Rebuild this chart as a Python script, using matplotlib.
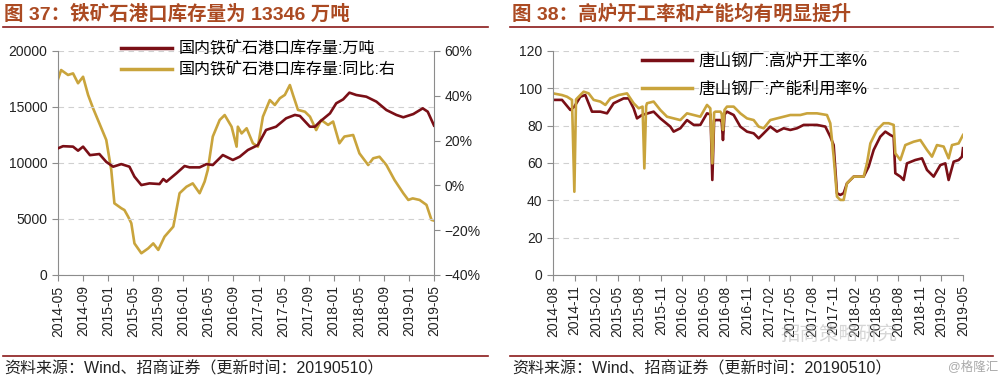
import matplotlib
matplotlib.use("Agg")
import matplotlib.pyplot as plt
from matplotlib.lines import Line2D

plt.rcParams['font.family'] = ['Liberation Sans', 'Noto Sans CJK SC', 'DejaVu Sans']
plt.rcParams['axes.unicode_minus'] = True

RED = "#7a0f16"
GOLD = "#c9a43c"
TITLE_C = "#ab4a22"
RULE_C = "#8b1a1a"

# ---- 图37 数据 (x: 距 2014-05 的月数) ----
stock_t = [0, 0.8, 2.4, 3.2, 4.0, 5.1, 6.6, 7.7, 8.8, 10.1, 11.4, 12.2, 13.3, 14.6,
           16.2, 16.8, 17.3, 18.9, 20.2, 21.0, 22.6, 23.7, 24.7, 26.3, 27.9, 29.0,
           30.3, 31.9, 33.2, 34.8, 36.4, 37.8, 38.6, 40.2, 41.0, 41.8, 43.4, 44.4,
           45.5, 46.5, 47.6, 49.2, 50.8, 52.4, 54.0, 55.1, 56.7, 58.2, 59.0, 60.0]
stock_val = [11310, 11500, 11460, 11100, 11460, 10700, 10800, 10100, 9670, 9900, 9670,
             8780, 8030, 8180, 8120, 8570, 8330, 9080, 9730, 9610, 9610, 9900, 9820,
             10710, 10270, 10560, 11160, 11600, 12950, 13240, 13990, 14290, 14200,
             13240, 13240, 13690, 14430, 15330, 15680, 16280, 16070, 15920, 15480,
             14730, 14290, 14080, 14370, 14880, 14580, 13346]

yoy_t = [0, 0.5, 1.6, 2.4, 3.2, 4.0, 4.8, 5.6, 6.6, 7.7, 8.5, 9.0, 10.1, 10.6, 11.2,
         11.7, 12.2, 13.3, 14.4, 15.2, 16.0, 17.0, 18.4, 19.4, 20.5, 21.5, 22.6, 23.4,
         23.9, 24.7, 25.8, 26.6, 27.7, 28.5, 28.7, 29.3, 30.1, 31.1, 31.9, 32.7, 33.8,
         34.6, 35.4, 36.2, 37.0, 37.5, 38.3, 39.4, 40.2, 41.2, 42.0, 43.1, 43.9, 44.9,
         45.7, 47.1, 48.1, 49.5, 50.3, 51.3, 52.4, 53.7, 55.1, 55.9, 56.6, 57.7, 58.8,
         59.6, 60.0]
yoy_val = [47.4, 51.5, 49.3, 50.0, 45.6, 48.5, 40.4, 34.4, 27.7, 20.3, 6.9, -8.0,
           -10.2, -11.0, -14.0, -16.9, -25.9, -30.3, -28.1, -25.9, -28.8, -22.9,
           -18.4, -3.5, -0.6, 0.9, -3.5, 1.7, 6.9, 21.8, 29.2, 31.4, 26.2, 17.3, 26.2,
           23.2, 25.5, 18.8, 17.3, 30.7, 38.1, 35.9, 38.9, 40.4, 44.8, 40.4, 33.7,
           32.9, 30.7, 24.7, 29.2, 27.0, 28.5, 18.8, 21.8, 22.5, 14.3, 9.1, 12.1, 12.8,
           9.1, 2.4, -3.5, -6.5, -5.8, -6.5, -8.7, -15.4, -15.7]

left_ticks = ["2014-05", "2014-09", "2015-01", "2015-05", "2015-09", "2016-01",
              "2016-05", "2016-09", "2017-01", "2017-05", "2017-09", "2018-01",
              "2018-05", "2018-09", "2019-01", "2019-05"]

# ---- 图38 数据 (x: 距 2014-08 的月数) ----
bf_t = [0, 1.25, 2.41, 2.97, 3.8, 4.49, 5.42, 6.58, 7.51, 8.43, 9.82, 10.52, 11.21,
        11.68, 12.37, 13.99, 14.92, 16.31, 16.77, 17.7, 18.63, 19.56, 20.48, 21.41,
        21.9, 22.15, 22.4, 22.57, 23.26, 23.45, 23.63, 23.85, 24.19, 25.12, 26.04,
        26.97, 27.9, 28.59, 29.29, 30.21, 31.14, 32.07, 32.99, 33.92, 34.85, 36.7,
        37.86, 38.55, 39.02, 39.48, 39.94, 40.41, 40.87, 41.8, 43.19, 43.88, 44.58,
        45.5, 46.2, 46.9, 47.36, 47.59, 48.29, 48.75, 49.21, 50.37, 51.3, 51.99,
        52.92, 53.85, 54.54, 55.0, 55.7, 56.39, 56.86, 57.0]
bf_val = [93.8, 93.8, 88.4, 90.2, 95.5, 96.4, 87.5, 87.5, 86.6, 92.0, 94.6, 94.6,
          89.3, 83.9, 85.7, 87.5, 83.9, 79.5, 76.8, 78.6, 83.0, 80.4, 80.4, 86.6,
          86.0, 50.9, 83.0, 83.0, 83.0, 82.0, 72.3, 86.0, 87.5, 85.7, 79.5, 76.8,
          75.9, 73.2, 75.9, 79.5, 76.8, 78.6, 77.7, 78.6, 80.4, 80.4, 79.5, 74.1,
          69.6, 43.8, 42.9, 43.8, 49.1, 52.7, 52.7, 58.0, 67.0, 74.1, 76.8, 75.0,
          74.1, 54.5, 52.7, 50.9, 59.8, 61.6, 62.5, 56.3, 52.7, 58.9, 59.8, 50.9,
          60.7, 61.6, 63.4, 67.9]

cap_t = [0, 1.25, 1.95, 2.64, 2.97, 3.2, 3.34, 4.26, 4.96, 5.65, 6.58, 7.28, 7.97,
         9.13, 10.29, 11.21, 11.91, 12.45, 12.7, 12.95, 13.07, 13.99, 14.92, 15.85,
         16.77, 17.7, 18.63, 19.56, 20.48, 21.41, 21.87, 22.15, 22.4, 22.57, 23.26,
         23.45, 23.63, 23.85, 24.19, 25.12, 26.04, 26.97, 27.9, 28.59, 29.29, 30.21,
         31.14, 32.07, 32.99, 34.38, 35.31, 36.7, 38.09, 38.55, 39.02, 39.48, 39.94,
         40.41, 40.87, 41.8, 43.19, 43.65, 44.12, 45.04, 45.97, 46.66, 47.36, 47.59,
         48.29, 48.98, 50.14, 51.07, 51.99, 52.69, 53.38, 54.31, 55.0, 55.47, 56.39,
         57.0]
cap_val = [97.3, 96.4, 95.5, 93.8, 44.6, 94.0, 94.6, 98.2, 97.3, 93.8, 92.9, 91.1,
           94.6, 96.4, 97.3, 92.0, 89.3, 90.2, 57.1, 90.5, 92.0, 92.9, 88.4, 84.8,
           83.9, 83.0, 86.6, 85.7, 84.8, 91.1, 89.3, 59.8, 87.0, 87.5, 87.5, 86.5,
           77.7, 88.5, 90.2, 90.2, 86.6, 83.9, 83.0, 79.5, 78.6, 83.0, 83.9, 84.8,
           85.7, 85.7, 86.6, 86.6, 85.7, 81.3, 63.4, 42.0, 40.2, 40.2, 49.1, 52.7,
           52.7, 59.8, 70.5, 77.7, 81.3, 81.3, 80.4, 65.2, 61.6, 69.6, 71.4, 72.3,
           67.0, 63.4, 69.6, 68.8, 62.5, 69.6, 70.5, 75.0]

right_ticks = ["2014-08", "2014-11", "2015-02", "2015-05", "2015-08", "2015-11",
               "2016-02", "2016-05", "2016-08", "2016-11", "2017-02", "2017-05",
               "2017-08", "2017-11", "2018-02", "2018-05", "2018-08", "2018-11",
               "2019-02", "2019-05"]

fig = plt.figure(figsize=(10, 3.78), dpi=100)


def style_axes(ax):
    for s in ["top", "right"]:
        ax.spines[s].set_visible(False)
    for s in ["left", "bottom"]:
        ax.spines[s].set_color("#8c8c8c")
    ax.tick_params(axis="both", colors="#8c8c8c", labelcolor="#222222",
                   labelsize=10, length=4, direction="out")
    ax.tick_params(axis="x", labelrotation=90, labelsize=10)
    ax.grid(axis="y", color="#d0d0d0", linestyle=(0, (5, 4)), linewidth=0.8)
    ax.set_axisbelow(True)


# ---------- 左图 ----------
ax1 = fig.add_axes([0.058, 0.2725, 0.376, 0.5926])
ax2 = ax1.twinx()
style_axes(ax1)
ax2.spines["top"].set_visible(False)
ax2.spines["left"].set_visible(False)
ax2.spines["bottom"].set_visible(False)
ax2.spines["right"].set_color("#8c8c8c")
ax2.tick_params(axis="y", colors="#8c8c8c", labelcolor="#222222", labelsize=10, length=4)

ax1.plot(stock_t, stock_val, color=RED, lw=1.9, zorder=3)
ax2.plot(yoy_t, yoy_val, color=GOLD, lw=1.9)
ax1.set_zorder(ax2.get_zorder() + 1)
ax1.patch.set_visible(False)

ax1.set_xlim(0, 60)
ax1.set_ylim(0, 20000)
ax1.set_yticks(range(0, 20001, 5000))
ax1.set_xticks(range(0, 61, 4))
ax1.set_xticklabels(left_ticks)
ax2.set_ylim(-40, 60)
ax2.set_yticks(range(-40, 61, 20))
ax2.set_yticklabels([f"{v}%".replace("-", "\u2212") for v in range(-40, 61, 20)])

ax1.legend([Line2D([], [], color=RED, lw=2.5), Line2D([], [], color=GOLD, lw=2.5)],
           ["国内铁矿石港口库存量:万吨", "国内铁矿石港口库存量:同比:右"],
           loc="upper left", bbox_to_anchor=(0.15, 1.075), frameon=False,
           fontsize=11.5, handlelength=3.2, handletextpad=0.4, labelspacing=0.35,
           borderaxespad=0)

# ---------- 右图 ----------
ax3 = fig.add_axes([0.553, 0.2725, 0.41, 0.5926])
style_axes(ax3)
ax3.plot(bf_t, bf_val, color=RED, lw=1.9)
ax3.plot(cap_t, cap_val, color=GOLD, lw=1.9)
ax3.set_xlim(0, 57)
ax3.set_ylim(0, 120)
ax3.set_yticks(range(0, 121, 20))
ax3.set_xticks(range(0, 58, 3))
ax3.set_xticklabels(right_ticks)
ax3.legend([Line2D([], [], color=RED, lw=2.5), Line2D([], [], color=GOLD, lw=2.5)],
           ["唐山钢厂:高炉开工率%", "唐山钢厂:产能利用率%"],
           loc="upper left", bbox_to_anchor=(0.2, 1.02), frameon=False,
           fontsize=12, handlelength=3.0, handletextpad=0.4, labelspacing=0.75,
           borderaxespad=0)

# ---------- 标题与注释 ----------
fig.text(0.004, 0.962, "图 37：铁矿石港口库存量为 13346 万吨", fontsize=14,
         fontweight="bold", color=TITLE_C, va="center")
fig.text(0.512, 0.962, "图 38：高炉开工率和产能均有明显提升", fontsize=14,
         fontweight="bold", color=TITLE_C, va="center")
fig.add_artist(Line2D([0.003, 0.488], [0.928, 0.928], color=RULE_C, lw=1.2))
fig.add_artist(Line2D([0.51, 0.993], [0.928, 0.928], color=RULE_C, lw=1.2))
fig.add_artist(Line2D([0.003, 0.488], [0.057, 0.057], color=RULE_C, lw=1.2))
fig.add_artist(Line2D([0.51, 0.993], [0.057, 0.057], color=RULE_C, lw=1.2))
fig.text(0.004, 0.024, "资料来源：Wind、招商证券（更新时间：20190510）", fontsize=11.5,
         color="#222222", va="center")
fig.text(0.512, 0.024, "资料来源：Wind、招商证券（更新时间：20190510）", fontsize=11.5,
         color="#222222", va="center")
fig.text(0.78, 0.115, "招商策略研究", fontsize=14, color="#bbbbbb", alpha=0.6,
         va="center")
fig.text(0.998, 0.03, "@格隆汇", fontsize=9, color="#aaaaaa", ha="right", va="center")

fig.savefig("out.png", dpi=100, facecolor="white")
